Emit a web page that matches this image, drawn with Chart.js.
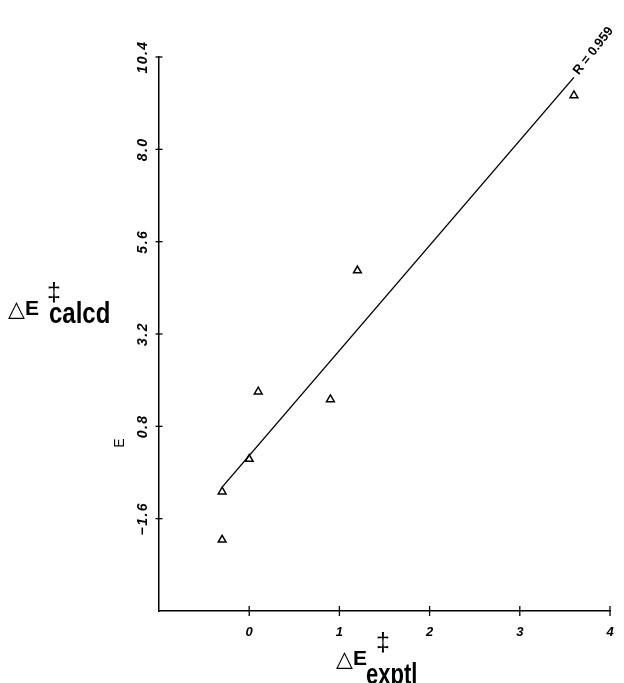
<!DOCTYPE html>
<html>
<head>
<meta charset="utf-8">
<script src="https://cdn.jsdelivr.net/npm/chart.js@4.4.1/dist/chart.umd.min.js"></script>
<style>
  html, body { margin: 0; padding: 0; background: #fff; }
  #wrap { width: 624px; height: 683px; }
</style>
</head>
<body>
<div id="wrap"><canvas id="chart" width="624" height="683"></canvas></div>
<script>
// measured points (experimental vs calculated barrier)
const exptlX = [-0.3, -0.3, 0.0, 0.1, 0.9, 1.2, 3.6];
const calcdY = [-0.9, -2.15, -0.05, 1.7, 1.5, 4.85, 9.4];

// least squares line, its two ends
const fitX = [-0.3, 3.6];
const fitY = [-0.78, 9.87];
const fitLabel = "R = 0.959";

// axis ranges and tick steps
const xRange = [-1, 4];
const xStep = 1;
const yRange = [-4.0, 10.4];
const yStep = 2.4;

function text(ctx, str, x, y, font, align, baseline, sy) {
  ctx.save();
  ctx.font = font;
  ctx.textAlign = align || "left";
  ctx.textBaseline = baseline || "alphabetic";
  ctx.translate(x, y);
  if (sy) ctx.scale(1, sy);
  ctx.fillText(str, 0, 0);
  ctx.restore();
}

// old-style plotter axes: ticks crossing the line, rotated y labels, titles
const paperAxes = {
  id: "paperAxes",
  afterDraw(chart) {
    const ctx = chart.ctx;
    const xs = chart.scales.x, ys = chart.scales.y;
    const area = chart.chartArea;
    ctx.save();
    ctx.strokeStyle = "#000";
    ctx.fillStyle = "#000";
    ctx.lineWidth = 1.3;

    xs.ticks.forEach(t => {
      const px = xs.getPixelForValue(t.value);
      if (t.value > xRange[0]) {
        ctx.beginPath();
        ctx.moveTo(px, area.bottom - 5);
        ctx.lineTo(px, area.bottom + 5);
        ctx.stroke();
        text(ctx, String(Math.round(t.value)), px, 632, "italic bold 13px 'Liberation Sans'", "center", "middle");
      }
    });

    ys.ticks.forEach(t => {
      const py = ys.getPixelForValue(t.value);
      if (t.value > yRange[0] + 0.01) {
        ctx.beginPath();
        ctx.moveTo(area.left - 3.5, py);
        ctx.lineTo(area.left + 3.5, py);
        ctx.stroke();
        ctx.save();
        ctx.translate(143, py);
        ctx.rotate(-Math.PI / 2);
        ctx.letterSpacing = "1.5px";
        text(ctx, t.value.toFixed(1).replace("-", "\u2212"), 0, 0, "italic bold 14px 'Liberation Sans'", "center", "middle");
        ctx.restore();
      }
    });

    // small rotated E beside the axis
    ctx.save();
    ctx.translate(120, 443);
    ctx.rotate(-Math.PI / 2);
    text(ctx, "E", 0, 0, "14px 'Liberation Sans'", "center", "middle");
    ctx.restore();

    // fit label along the line end
    const ex = xs.getPixelForValue(fitX[1]);
    const ey = ys.getPixelForValue(fitY[1]);
    ctx.save();
    ctx.translate(ex + 2, ey - 4);
    ctx.rotate(-52 * Math.PI / 180);
    text(ctx, fitLabel, 0, 0, "bold 13px 'Liberation Sans'", "left", "middle");
    ctx.restore();

    // y title
    text(ctx, "\u25B3", 8, 316, "22px 'DejaVu Sans'", "left");
    text(ctx, "E", 25, 315, "bold 21px 'Liberation Sans'", "left");
    text(ctx, "\u2021", 47, 282, "25px 'Liberation Sans'", "left", "top");
    text(ctx, "calcd", 49, 323, "bold 24px 'Liberation Sans'", "left", "alphabetic", 1.2);

    // x title
    text(ctx, "\u25B3", 336, 666, "22px 'DejaVu Sans'", "left");
    text(ctx, "E", 353, 665, "bold 21px 'Liberation Sans'", "left");
    text(ctx, "\u2021", 376, 632, "25px 'Liberation Sans'", "left", "top");
    text(ctx, "exptl", 366, 684, "bold 22px 'Liberation Sans'", "left", "alphabetic", 1.3);

    ctx.restore();
  }
};

new Chart(document.getElementById("chart"), {
  type: "scatter",
  data: {
    datasets: [
      {
        label: "fit",
        data: fitX.map((x, i) => ({ x, y: fitY[i] })),
        showLine: true,
        borderColor: "#000",
        borderWidth: 1.4,
        pointRadius: 0,
        fill: false,
      },
      {
        label: "points",
        data: exptlX.map((x, i) => ({ x, y: calcdY[i] })),
        pointStyle: "triangle",
        pointRadius: 4.5,
        pointBorderWidth: 1.5,
        pointBorderColor: "#000",
        pointBackgroundColor: "#fff",
      },
    ],
  },
  options: {
    responsive: false,
    animation: false,
    layout: { padding: { top: 57, right: 14, left: 0, bottom: 0 } },
    plugins: { legend: { display: false }, tooltip: { enabled: false } },
    scales: {
      x: {
        type: "linear",
        min: xRange[0],
        max: xRange[1],
        ticks: { stepSize: xStep, display: false },
        grid: { display: false },
        border: { display: true, color: "#000", width: 1.5 },
        afterFit: s => { s.height = 72; },
      },
      y: {
        type: "linear",
        min: yRange[0],
        max: yRange[1],
        ticks: { stepSize: yStep, display: false },
        grid: { display: false },
        border: { display: true, color: "#000", width: 1.5 },
        afterFit: s => { s.width = 159; },
      },
    },
  },
  plugins: [paperAxes],
});
</script>
</body>
</html>
